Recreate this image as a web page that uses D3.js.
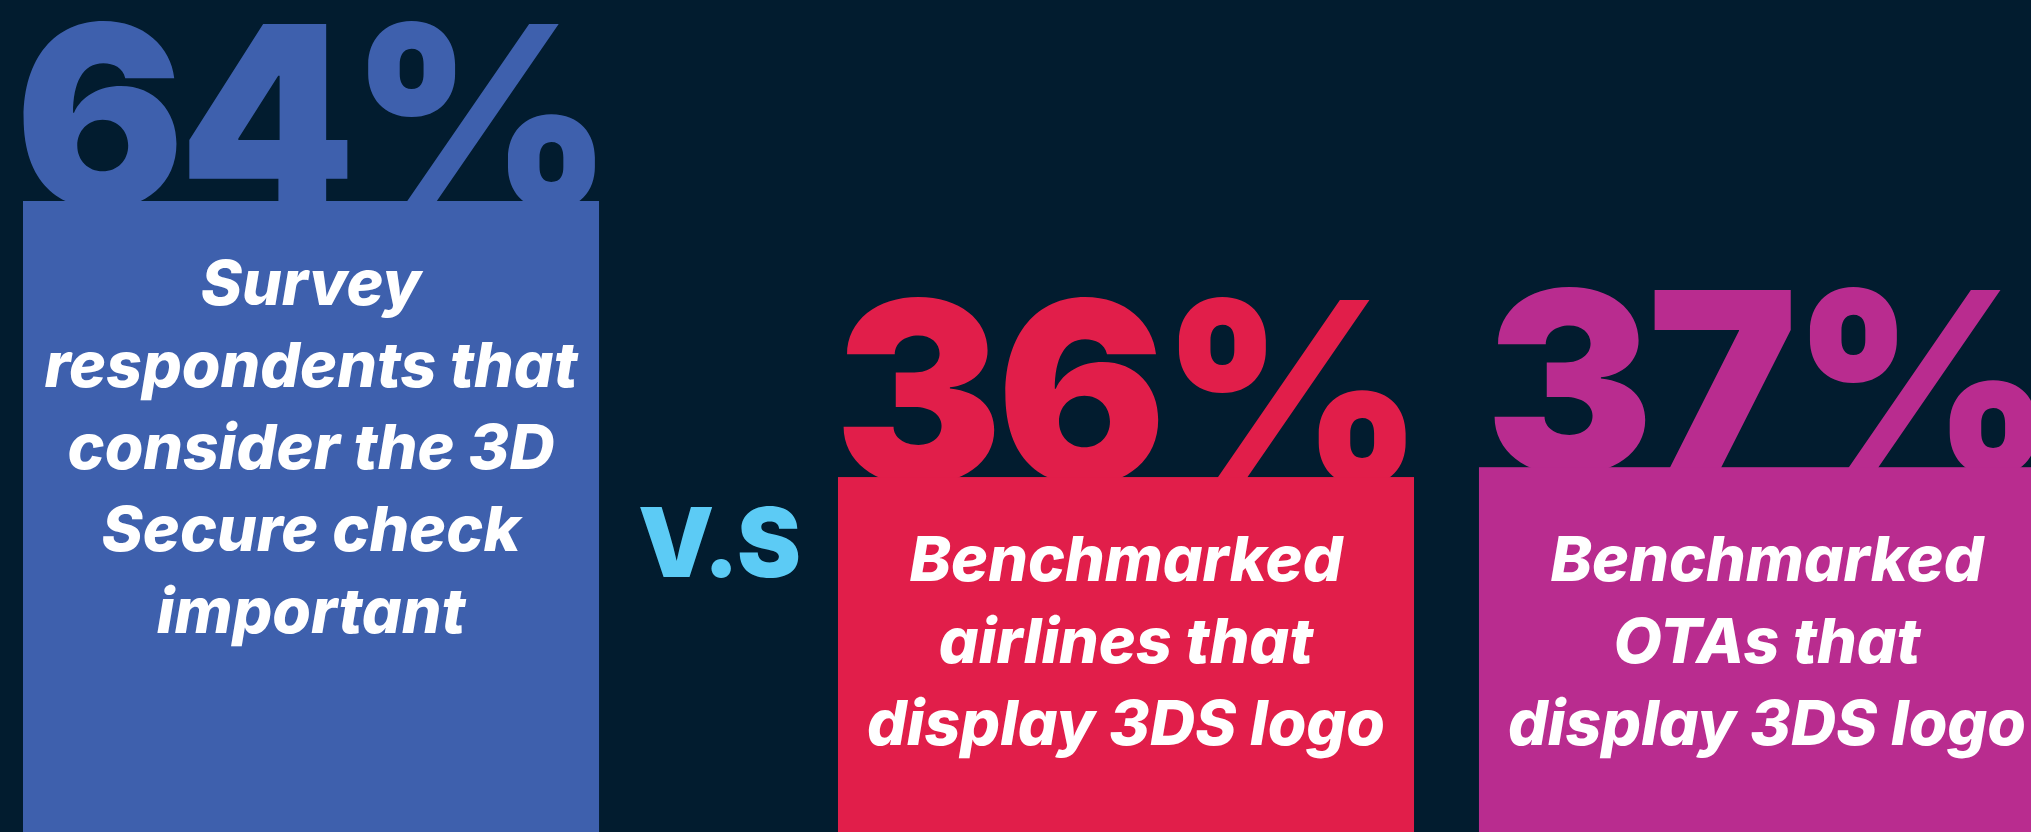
<!DOCTYPE html>
<html>
<head>
<meta charset="utf-8">
<script src="https://cdn.jsdelivr.net/npm/d3@7"></script>
<style>
  html, body { margin: 0; padding: 0; background: #021c2f; overflow: hidden; }
  svg { display: block; }
</style>
</head>
<body>
<svg id="chart"></svg>
<script>
// Share of respondents / benchmarked sites, in percent
const categories = ["Survey respondents", "Benchmarked airlines", "Benchmarked OTAs"];
const values = [64, 36, 37];
const captions = [
  ["Survey", "respondents that", "consider the 3D", "Secure check", "important"],
  ["Benchmarked", "airlines that", "display 3DS logo"],
  ["Benchmarked", "OTAs that", "display 3DS logo"]
];
const versusLabel = "V.S";

const W = 2031, H = 832;
const FONT = "Inter, 'Open Sans', sans-serif";

const svg = d3.select("#chart").attr("width", W).attr("height", H);
svg.append("rect").attr("width", W).attr("height", H).attr("fill", "#021c2f");

const color = d3.scaleOrdinal()
  .domain(categories)
  .range(["#3e60ad", "#e11e4a", "#b92c8f"]);

// Bars sit in a band scale; an extra gap after the first bar holds the "V.S" mark
const vsGap = 174;
const x = d3.scaleBand()
  .domain(categories)
  .range([23, 1881])
  .paddingInner(0.1013)
  .paddingOuter(0);
const xPos = (c, i) => x(c) + (i > 0 ? vsGap : 0);

const y = d3.scaleLinear()
  .domain([0, d3.max(values)])
  .range([H, 201]);

const data = categories.map((c, i) => ({ c, i, v: values[i], lines: captions[i] }));

// The two benchmark captions share one starting line, under the lower of their bars
const benchTop = d3.max(values.slice(1), v => y(v));
const captionTop = d => (d.i === 0 ? y(d.v) : benchTop);

const g = svg.selectAll("g.bar").data(data).join("g").attr("class", "bar");

// Big percentage figure standing on top of each bar
g.append("text")
  .attr("x", d => xPos(d.c, d.i) + x.bandwidth() / 2)
  .attr("y", d => y(d.v) + 6)
  .attr("text-anchor", "middle")
  .attr("font-family", FONT)
  .attr("font-weight", 900)
  .attr("font-size", 252)
  .attr("letter-spacing", -6)
  .attr("fill", d => color(d.c))
  .text(d => d.v + "%");

g.append("rect")
  .attr("x", d => xPos(d.c, d.i))
  .attr("y", d => y(d.v))
  .attr("width", x.bandwidth())
  .attr("height", d => H - y(d.v))
  .attr("fill", d => color(d.c));

// Caption inside each bar
g.append("text")
  .attr("text-anchor", "middle")
  .attr("font-family", FONT)
  .attr("font-weight", 800)
  .attr("font-style", "italic")
  .attr("font-size", 62.5)
  .attr("fill", "#ffffff")
  .selectAll("tspan")
  .data(d => d.lines.map((t, k) => ({ t, k, d })))
  .join("tspan")
  .attr("x", e => xPos(e.d.c, e.d.i) + x.bandwidth() / 2)
  .attr("y", e => captionTop(e.d) + 104 + e.k * 82)
  .text(e => e.t);

// "V.S" between the survey bar and the benchmark bars
svg.append("text")
  .attr("x", (x(categories[0]) + x.bandwidth() + xPos(categories[1], 1)) / 2)
  .attr("y", 577)
  .attr("text-anchor", "middle")
  .attr("font-family", FONT)
  .attr("font-weight", 900)
  .attr("font-size", 96)
  .attr("letter-spacing", -2)
  .attr("fill", "#5ccbf5")
  .text(versusLabel);
</script>
</body>
</html>
